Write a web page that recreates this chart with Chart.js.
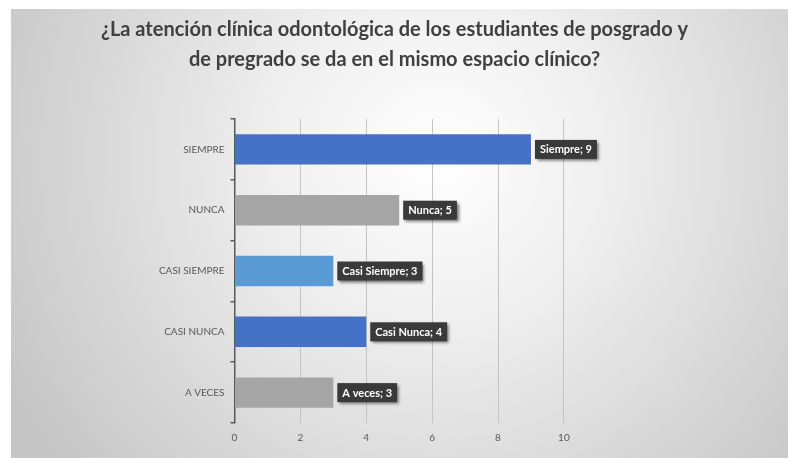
<!DOCTYPE html>
<html>
<head>
<meta charset="utf-8">
<script src="https://cdn.jsdelivr.net/npm/chart.js@4/dist/chart.umd.min.js"></script>
<style>
  html, body { margin: 0; padding: 0; background: #ffffff; }
  #wrap { position: absolute; left: 11px; top: 9px; width: 777px; height: 449px; }
</style>
</head>
<body>
<div id="wrap"><canvas id="c" width="777" height="449"></canvas></div>
<script>
const titleLines = [
  "¿La atención clínica odontológica de los estudiantes de posgrado y",
  "de pregrado se da en el mismo espacio clínico?"
];
const categories = ["SIEMPRE", "NUNCA", "CASI SIEMPRE", "CASI NUNCA", "A VECES"];
const labelNames = ["Siempre", "Nunca", "Casi Siempre", "Casi Nunca", "A veces"];
const values = [9, 5, 3, 4, 3];
const barColors = ["#4472C4", "#A5A5A5", "#5B9BD5", "#4472C4", "#A5A5A5"];
const xTicks = [0, 2, 4, 6, 8, 10];

const FONT = "Lato, 'Liberation Sans', sans-serif";

const bgPlugin = {
  id: 'bg',
  beforeDraw(chart) {
    const ctx = chart.ctx;
    const w = chart.width, h = chart.height;
    ctx.save();
    const g = ctx.createRadialGradient(w * 0.55, h * 0.33, 0, w * 0.55, h * 0.33, w * 0.62);
    g.addColorStop(0, '#ffffff');
    g.addColorStop(0.35, '#efefef');
    g.addColorStop(1, '#c6c6c6');
    ctx.fillStyle = g;
    ctx.fillRect(0, 0, w, h);
    ctx.restore();
  }
};

const labelPlugin = {
  id: 'barLabels',
  afterDatasetsDraw(chart) {
    const ctx = chart.ctx;
    const meta = chart.getDatasetMeta(0);
    ctx.save();
    ctx.font = "bold 11px " + FONT;
    ctx.textBaseline = 'middle';
    ctx.textAlign = 'left';
    meta.data.forEach((bar, i) => {
      const text = labelNames[i] + "; " + values[i];
      const tw = ctx.measureText(text).width;
      const padX = 5, h = 19;
      const x = bar.x + 4;
      const y = bar.y - h / 2;
      ctx.save();
      ctx.shadowColor = 'rgba(0,0,0,0.55)';
      ctx.shadowBlur = 3;
      ctx.shadowOffsetX = 2;
      ctx.shadowOffsetY = 2;
      ctx.fillStyle = '#3a3a3a';
      ctx.fillRect(x, y, tw + padX * 2, h);
      ctx.restore();
      ctx.fillStyle = '#ffffff';
      ctx.fillText(text, x + padX, bar.y + 0.5);
    });
    ctx.restore();
  }
};

new Chart(document.getElementById('c'), {
  type: 'bar',
  data: {
    labels: categories,
    datasets: [{
      data: values,
      backgroundColor: barColors,
      borderWidth: 0,
      barPercentage: 0.5,
      categoryPercentage: 1.0
    }]
  },
  options: {
    indexAxis: 'y',
    responsive: false,
    animation: false,
    layout: { padding: { left: 0, right: 10, top: 0, bottom: 0 } },
    plugins: {
      legend: { display: false },
      tooltip: { enabled: false },
      title: {
        display: true,
        text: titleLines,
        color: '#404040',
        font: { family: FONT, size: 20, weight: 'bold', lineHeight: '30px' },
        padding: { top: 6, bottom: 44 }
      }
    },
    scales: {
      x: {
        min: 0,
        max: 16.5,
        afterBuildTicks(scale) { scale.ticks = xTicks.map(v => ({ value: v })); },
        afterFit(scale) { scale.height = 35; },
        grid: { color: '#c4c4c4', lineWidth: 1, drawTicks: false },
        border: { display: false },
        ticks: { color: '#595959', font: { family: FONT, size: 10 }, padding: 9 }
      },
      y: {
        afterFit(scale) { scale.width = 223.5; },
        grid: { drawOnChartArea: false, color: '#595959', tickLength: 4, lineWidth: 1.5 },
        border: { color: '#595959', width: 1.5 },
        ticks: { color: '#595959', font: { family: FONT, size: 10 }, padding: 6 }
      }
    }
  },
  plugins: [bgPlugin, labelPlugin]
});
</script>
</body>
</html>
